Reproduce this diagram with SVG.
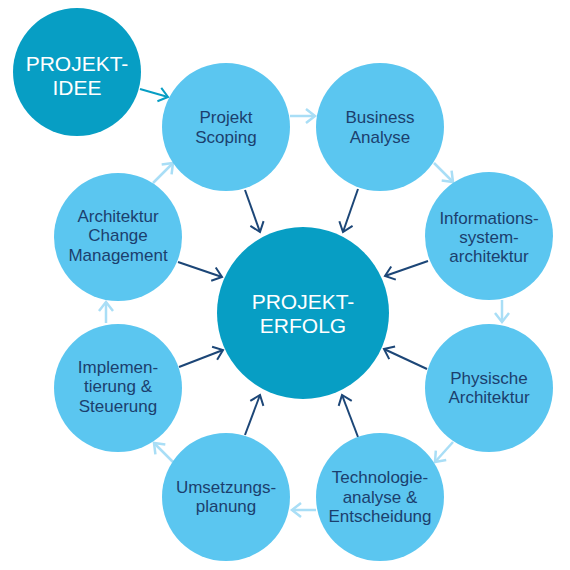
<svg xmlns="http://www.w3.org/2000/svg" width="570" height="570" viewBox="0 0 570 570">
<style>
.main{fill:#079EC4}
.step{fill:#5BC6F0}
.lbl{font-family:"Liberation Sans",Arial,sans-serif;font-size:17px;fill:#1B3F6E;text-anchor:middle}
.big{font-family:"Liberation Sans",Arial,sans-serif;font-size:21px;fill:#FFFFFF;text-anchor:middle}
.cd{stroke:#1C4677;stroke-width:2;fill:none}
.cl{stroke:#A9DEF6;stroke-width:2.5;fill:none}
.ct{stroke:#079EC4;stroke-width:2;fill:none}
</style>
<defs>
<marker id="ad" markerUnits="userSpaceOnUse" markerWidth="20" markerHeight="20" refX="0" refY="0" viewBox="-12 -10 14 20" orient="auto"><path d="M-9,-7 L0,0 L-9,7" fill="none" stroke="#1C4677" stroke-width="2"/></marker>
<marker id="al" markerUnits="userSpaceOnUse" markerWidth="20" markerHeight="20" refX="0" refY="0" viewBox="-12 -10 14 20" orient="auto"><path d="M-9,-7 L0,0 L-9,7" fill="none" stroke="#A9DEF6" stroke-width="2.5"/></marker>
<marker id="at" markerUnits="userSpaceOnUse" markerWidth="20" markerHeight="20" refX="0" refY="0" viewBox="-12 -10 14 20" orient="auto"><path d="M-9,-7 L0,0 L-9,7" fill="none" stroke="#079EC4" stroke-width="2"/></marker>
</defs>
<rect width="570" height="570" fill="#FFFFFF"/>
<g id="connectors">
<line class="ct" x1="140" y1="89" x2="168" y2="97" marker-end="url(#at)"/>
<line class="cl" x1="290" y1="116" x2="315" y2="116" marker-end="url(#al)"/>
<line class="cl" x1="434" y1="163" x2="453" y2="182" marker-end="url(#al)"/>
<line class="cl" x1="502" y1="300" x2="502" y2="322" marker-end="url(#al)"/>
<line class="cl" x1="453" y1="442" x2="435" y2="462" marker-end="url(#al)"/>
<line class="cl" x1="316" y1="510" x2="292" y2="510" marker-end="url(#al)"/>
<line class="cl" x1="173" y1="462" x2="154" y2="443" marker-end="url(#al)"/>
<line class="cl" x1="106" y1="323" x2="106" y2="302" marker-end="url(#al)"/>
<line class="cl" x1="153" y1="183" x2="173" y2="163" marker-end="url(#al)"/>
<line class="cd" x1="245" y1="190" x2="260" y2="232" marker-end="url(#ad)"/>
<line class="cd" x1="358" y1="189" x2="343" y2="232" marker-end="url(#ad)"/>
<line class="cd" x1="428" y1="261" x2="385" y2="276" marker-end="url(#ad)"/>
<line class="cd" x1="427" y1="369" x2="384" y2="349" marker-end="url(#ad)"/>
<line class="cd" x1="358" y1="437" x2="342" y2="395" marker-end="url(#ad)"/>
<line class="cd" x1="245" y1="435" x2="260" y2="395" marker-end="url(#ad)"/>
<line class="cd" x1="179" y1="367" x2="223" y2="350" marker-end="url(#ad)"/>
<line class="cd" x1="178" y1="262" x2="222" y2="277" marker-end="url(#ad)"/>
</g>
<g id="projektidee">
<circle class="main" cx="77" cy="72" r="64"/>
<text class="big" x="77" y="71">PROJEKT-</text>
<text class="big" x="77" y="95">IDEE</text>
</g>
<g id="projekterfolg">
<circle class="main" cx="303" cy="313" r="86"/>
<text class="big" x="303" y="309">PROJEKT-</text>
<text class="big" x="303" y="333">ERFOLG</text>
</g>
<g id="scoping">
<circle class="step" cx="226" cy="127" r="64"/>
<text class="lbl" x="226" y="123">Projekt</text>
<text class="lbl" x="226" y="143">Scoping</text>
</g>
<g id="business">
<circle class="step" cx="380" cy="127" r="64"/>
<text class="lbl" x="380" y="123">Business</text>
<text class="lbl" x="380" y="143">Analyse</text>
</g>
<g id="informationssystem">
<circle class="step" cx="489" cy="236" r="64"/>
<text class="lbl" x="489" y="224">Informations-</text>
<text class="lbl" x="489" y="243">system-</text>
<text class="lbl" x="489" y="262">architektur</text>
</g>
<g id="physische">
<circle class="step" cx="489" cy="388" r="64"/>
<text class="lbl" x="489" y="384">Physische</text>
<text class="lbl" x="489" y="403">Architektur</text>
</g>
<g id="technologie">
<circle class="step" cx="380" cy="497" r="64"/>
<text class="lbl" x="380" y="483">Technologie-</text>
<text class="lbl" x="380" y="503">analyse &amp;</text>
<text class="lbl" x="380" y="522">Entscheidung</text>
</g>
<g id="umsetzung">
<circle class="step" cx="226" cy="497" r="64"/>
<text class="lbl" x="226" y="493">Umsetzungs-</text>
<text class="lbl" x="226" y="512">planung</text>
</g>
<g id="implementierung">
<circle class="step" cx="118" cy="388" r="64"/>
<text class="lbl" x="118" y="373">Implemen-</text>
<text class="lbl" x="118" y="392">tierung &amp;</text>
<text class="lbl" x="118" y="412">Steuerung</text>
</g>
<g id="architekturchange">
<circle class="step" cx="118" cy="237" r="64"/>
<text class="lbl" x="118" y="222">Architektur</text>
<text class="lbl" x="118" y="241">Change</text>
<text class="lbl" x="118" y="261">Management</text>
</g>
</svg>
